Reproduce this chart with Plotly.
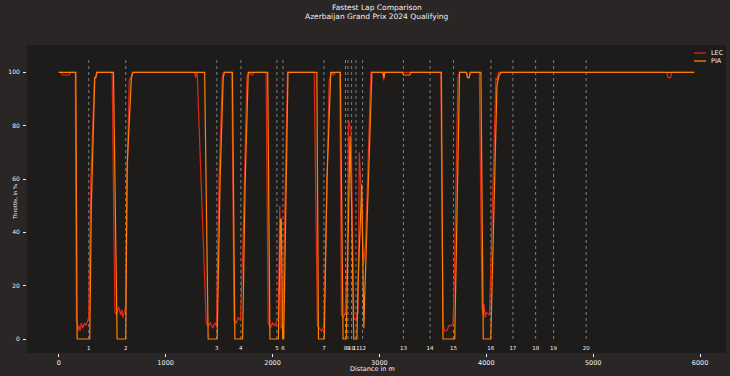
import plotly.graph_objects as go

# ---------------- data ----------------
lec_distance = [0, 28, 33, 100, 105, 155, 165, 172, 180, 190, 200, 210, 225, 240, 255, 270, 280, 300, 335, 350, 360,
                500, 525, 540, 560, 580, 590, 600, 615, 625, 640, 660, 675, 690,
                1270, 1280, 1290, 1295, 1380, 1400, 1420, 1440, 1460, 1475, 1500, 1530, 1540,
                1620, 1640, 1660, 1680, 1700, 1720, 1760, 1780, 1800, 1810, 1830,
                1940, 1960, 1980, 2000, 2020, 2040, 2055, 2068, 2080, 2095, 2140,
                2390, 2420, 2440, 2460, 2480, 2490, 2530, 2545, 2555, 2570, 2590,
                2630, 2645, 2665, 2680, 2700, 2712, 2735, 2760, 2780, 2800, 2812, 2830, 2850, 2870, 2920,
                3030, 3040, 3050, 3560,
                3575, 3595, 3610, 3630, 3650, 3670, 3690, 3700, 3735, 3750,
                3815, 3825, 3840, 3850,
                3935, 3960, 3970, 3980, 3990, 4000, 4030, 4045, 4090, 4100, 4115,
                5690, 5700, 5725, 5735, 5946]
lec_throttle = [100, 100, 99, 99, 100, 100, 7, 6, 3, 5, 3, 6, 4, 6, 5, 7, 8, 60, 98, 98, 100,
                100, 10, 9, 12, 9, 11, 8, 10, 12, 60, 97, 98, 100,
                100, 98, 100, 100, 6, 5, 6, 4, 6, 5, 60, 98, 100,
                100, 7, 6, 8, 7, 30, 98, 100, 99, 99, 100,
                100, 6, 4, 6, 5, 7, 8, 50, 4, 5, 100,
                100, 5, 4, 3, 5, 20, 97, 99, 100, 99, 100,
                100, 9, 8, 10, 30, 82, 78, 8, 7, 10, 70, 55, 28, 35, 100,
                100, 97, 100, 100,
                100, 6, 3, 3, 5, 5, 6, 20, 98, 100,
                100, 98, 98, 100,
                100, 12, 9, 13, 8, 10, 9, 30, 98, 97, 100,
                100, 98, 98, 100, 100]

pia_distance = [0, 160, 172, 290, 305, 337, 345, 355,
                512, 546, 627, 640, 680, 695,
                1365, 1398, 1482, 1510, 1539, 1550,
                1625, 1648, 1720, 1745, 1773,
                1955, 1976, 2055, 2075, 2082, 2095, 2105, 2145,
                2415, 2430, 2484, 2510, 2545,
                2635, 2660, 2690, 2725, 2740, 2760, 2790, 2800, 2835, 2855, 2862, 2880, 2930,
                3035, 3043, 3050, 3215, 3225, 3285, 3295,
                3580, 3595, 3705, 3750,
                3815, 3825, 3840, 3850,
                3950, 3972, 4042, 4100, 4120, 4140, 5946]
pia_throttle = [100, 100, 0, 0, 50, 98, 98, 100,
                100, 0, 0, 65, 98, 100,
                100, 0, 0, 60, 98, 100,
                100, 0, 0, 60, 100,
                100, 0, 0, 45, 45, 0, 0, 100,
                100, 0, 0, 60, 100,
                100, 0, 0, 76, 50, 0, 0, 20, 58, 4, 15, 40, 100,
                100, 98, 100, 100, 99, 99, 100,
                100, 0, 0, 100,
                100, 98, 98, 100,
                100, 0, 0, 95, 99, 100, 100]

drivers = ["LEC", "PIA"]

corner_labels = ["1", "2", "3", "4", "5", "6", "7", "8", "9", "10", "11", "12",
                 "13", "14", "15", "16", "17", "18", "19", "20"]
corner_distance = [281, 627, 1479, 1704, 2041, 2098, 2481, 2683, 2706, 2740, 2781, 2843,
                   3225, 3474, 3693, 4043, 4249, 4462, 4630, 4935]

x_ticks = [0, 1000, 2000, 3000, 4000, 5000, 6000]
y_ticks = [0, 20, 40, 60, 80, 100]

title_lines = ["Fastest Lap Comparison", "Azerbaijan Grand Prix 2024 Qualifying"]

# ---------------- style ----------------
FIG_BG = "#292625"
AX_BG = "#1e1c1b"
TXT = "#F1F1F3"
DRIVER_COLORS = ["#e0281a", "#ff8000"]
FONT = "DejaVu Sans"

fig = go.Figure()

# corner lines (drawn first, behind traces)
for d in corner_distance:
    fig.add_trace(go.Scatter(x=[d, d], y=[0, 105], mode="lines",
                             line=dict(color="#808080", width=1, dash="dot"),
                             showlegend=False, hoverinfo="skip"))

series = [(lec_distance, lec_throttle), (pia_distance, pia_throttle)]
for (xs, ys), name, col in zip(series, drivers, DRIVER_COLORS):
    fig.add_trace(go.Scatter(x=xs, y=ys, mode="lines", name=name,
                             line=dict(color=col, width=1.2), showlegend=False))

# corner numbers
fig.add_trace(go.Scatter(x=corner_distance, y=[-3.5] * len(corner_distance), mode="text",
                         text=corner_labels, textposition="middle center",
                         textfont=dict(color=TXT, size=5.5, family=FONT),
                         showlegend=False, hoverinfo="skip"))

annotations = [
    dict(text=title_lines[0], xref="paper", yref="paper", x=0.5, y=1.123,
         xanchor="center", yanchor="middle", showarrow=False,
         font=dict(size=7.5, color=TXT, family=FONT)),
    dict(text=title_lines[1], xref="paper", yref="paper", x=0.5, y=1.094,
         xanchor="center", yanchor="middle", showarrow=False,
         font=dict(size=7.5, color=TXT, family=FONT)),
    dict(text="Distance in m", xref="paper", yref="paper", x=0.494, y=-0.052,
         xanchor="center", yanchor="middle", showarrow=False,
         font=dict(size=6.5, color=TXT, family=FONT)),
    dict(text="Throttle, in %", xref="paper", yref="paper", x=-0.0172, y=0.49,
         xanchor="center", yanchor="middle", textangle=-90, showarrow=False,
         font=dict(size=5.2, color=TXT, family=FONT)),
]

# legend (compact, matplotlib-like)
shapes = []
legend_y = [0.974, 0.948]
for name, col, ly in zip(drivers, DRIVER_COLORS, legend_y):
    shapes.append(dict(type="line", xref="paper", yref="paper", x0=0.9542, x1=0.9714,
                       y0=ly, y1=ly, line=dict(color=col, width=1.3)))
    annotations.append(dict(text=name, xref="paper", yref="paper", x=0.9757, y=ly,
                            xanchor="left", yanchor="middle", showarrow=False,
                            font=dict(size=6.5, color=TXT, family=FONT)))

fig.update_layout(
    width=730, height=376,
    margin=dict(l=27, r=4, t=45, b=23),
    paper_bgcolor=FIG_BG, plot_bgcolor=AX_BG,
    font=dict(family=FONT, color=TXT, size=6.5),
    showlegend=False,
    xaxis=dict(range=[-297, 6243], tickvals=x_ticks, ticktext=[str(v) for v in x_ticks],
               showgrid=False, zeroline=False, showline=False,
               ticks="outside", ticklen=3, tickcolor=TXT, tickwidth=0.8,
               tickfont=dict(size=6.5, color=TXT, family=FONT)),
    yaxis=dict(range=[-5.25, 110.25], tickvals=y_ticks, ticktext=[str(v) for v in y_ticks],
               showgrid=False, zeroline=False, showline=False,
               ticks="outside", ticklen=3, tickcolor=TXT, tickwidth=0.8,
               ticklabelstandoff=2,
               tickfont=dict(size=6, color=TXT, family=FONT)),
    annotations=annotations,
    shapes=shapes,
)

fig.write_html("out.html",
               config={"displayModeBar": False},
               post_script="document.body.style.margin='0';document.body.style.padding='0';"
                           "document.body.style.overflow='hidden';"
                           "document.body.style.background='" + FIG_BG + "';")
